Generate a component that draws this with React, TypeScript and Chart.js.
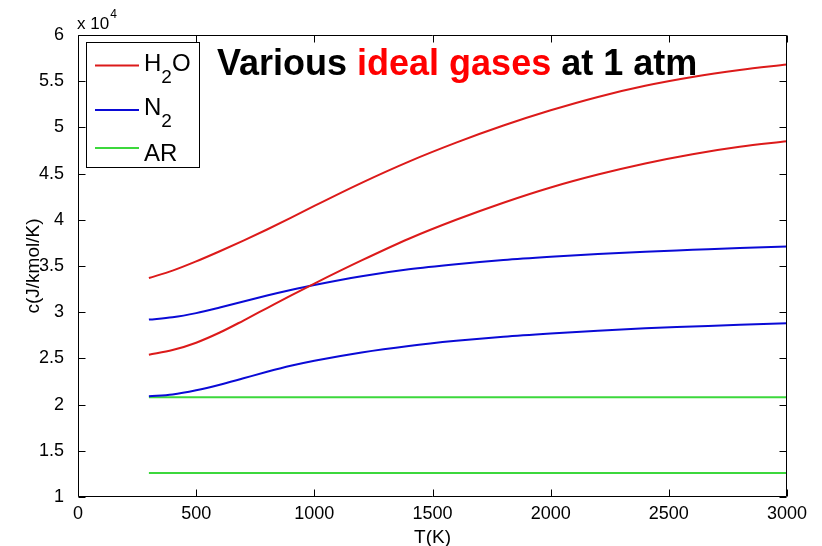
import React, { useEffect, useRef } from "react";
import { Chart, registerables } from "chart.js";

Chart.register(...registerables);

// Temperatures (K) at which the curves were read
const TEMPS = [300, 400, 500, 600, 700, 800, 900, 1000, 1200, 1400, 1600, 1800, 2000, 2200, 2400, 2600, 2800, 3000];
// Specific heat c (J/kmol/K)
const H2O_UPPER = [33700, 34500, 35500, 36600, 37750, 38950, 40200, 41500, 44000, 46300, 48350, 50200, 51850, 53300, 54500, 55450, 56200, 56800];
const H2O_LOWER = [25400, 25900, 26700, 27800, 29100, 30450, 31800, 33100, 35600, 37950, 40000, 41850, 43500, 44900, 46100, 47100, 47900, 48500];
const N2_UPPER = [29200, 29450, 29900, 30500, 31150, 31800, 32400, 32950, 33900, 34650, 35200, 35650, 36000, 36300, 36550, 36750, 36950, 37100];
const N2_LOWER = [20900, 21100, 21550, 22150, 22850, 23550, 24200, 24750, 25650, 26350, 26900, 27350, 27700, 28000, 28250, 28450, 28650, 28800];
const AR_TEMPS = [300, 3000];
const AR_UPPER = [20800, 20800];
const AR_LOWER = [12600, 12600];

const X_MIN = 0;
const X_MAX = 3000;
const X_STEP = 500;
const Y_MIN = 10000;
const Y_MAX = 60000;
const Y_STEP = 5000;
const Y_FACTOR = 10000;

const TITLE_PARTS = [
  { text: "Various ", color: "#000000" },
  { text: "ideal gases", color: "#ff0000" },
  { text: " at 1 atm", color: "#000000" },
];
const X_TITLE = "T(K)";
const Y_TITLE = "c(J/kmol/K)";

const RED = "#dc1a1a";
const BLUE = "#0a0ad6";
const GREEN = "#3cd83c";
const FONT = "'Liberation Sans', Arial, Helvetica, sans-serif";

const pts = (xs: number[], ys: number[]) => xs.map((x, i) => ({ x, y: ys[i] }));

const overlayPlugin = {
  id: "matlabOverlay",
  afterDraw(chart: any) {
    const ctx: CanvasRenderingContext2D = chart.ctx;
    const { left, right, top, bottom } = chart.chartArea;
    const xs = chart.scales.x;
    const ys = chart.scales.y;
    ctx.save();
    // axes box
    ctx.strokeStyle = "#000";
    ctx.lineWidth = 1;
    const L = Math.round(left) + 0.5;
    const R = Math.round(right) - 0.5;
    const T = Math.round(top) + 0.5;
    const B = Math.round(bottom) - 0.5;
    ctx.beginPath();
    ctx.rect(L, T, R - L, B - T);
    ctx.stroke();
    // inward ticks
    const tl = 7;
    ctx.beginPath();
    xs.ticks.forEach((t: any) => {
      const px = Math.round(xs.getPixelForValue(t.value)) + 0.5;
      ctx.moveTo(px, B);
      ctx.lineTo(px, B - tl);
      ctx.moveTo(px, T);
      ctx.lineTo(px, T + tl);
    });
    ys.ticks.forEach((t: any) => {
      const py = Math.round(ys.getPixelForValue(t.value)) + 0.5;
      ctx.moveTo(L, py);
      ctx.lineTo(L + tl, py);
      ctx.moveTo(R, py);
      ctx.lineTo(R - tl, py);
    });
    ctx.stroke();

    // exponent label
    ctx.fillStyle = "#000";
    ctx.textBaseline = "alphabetic";
    ctx.textAlign = "left";
    ctx.font = `17px ${FONT}`;
    ctx.fillText("x 10", 77, 29);
    const w10 = ctx.measureText("x 10").width;
    ctx.font = `12px ${FONT}`;
    ctx.fillText("4", 77 + w10 + 1, 18);

    // axis titles
    ctx.font = `19px ${FONT}`;
    ctx.textAlign = "center";
    ctx.fillText(X_TITLE, (left + right) / 2, 543);
    ctx.save();
    ctx.translate(39, (top + bottom) / 2);
    ctx.rotate(-Math.PI / 2);
    ctx.fillText(Y_TITLE, 0, 0);
    ctx.restore();

    // title
    ctx.textAlign = "left";
    ctx.font = `bold 36px ${FONT}`;
    let tx = 217;
    TITLE_PARTS.forEach((p) => {
      ctx.fillStyle = p.color;
      ctx.fillText(p.text, tx, 75);
      tx += ctx.measureText(p.text).width;
    });

    // legend
    ctx.fillStyle = "#fff";
    ctx.fillRect(87, 42, 112, 125);
    ctx.strokeStyle = "#000";
    ctx.lineWidth = 1;
    ctx.strokeRect(86.5, 42.5, 113, 125);
    const entries = [
      { color: RED, y: 65.5, parts: ["H", "2", "O"], base: 71 },
      { color: BLUE, y: 110, parts: ["N", "2"], base: 115 },
      { color: GREEN, y: 148, parts: ["AR"], base: 161 },
    ];
    entries.forEach((e) => {
      ctx.strokeStyle = e.color;
      ctx.lineWidth = 2;
      ctx.beginPath();
      ctx.moveTo(95, e.y);
      ctx.lineTo(139, e.y);
      ctx.stroke();
      let x = 144;
      ctx.fillStyle = "#000";
      e.parts.forEach((s, i) => {
        const sub = i === 1;
        ctx.font = sub ? `19px ${FONT}` : `24px ${FONT}`;
        ctx.fillText(s, x, sub ? e.base + 12 : e.base);
        x += ctx.measureText(s).width;
      });
    });
    ctx.restore();
  },
};

export default function App() {
  const ref = useRef<HTMLCanvasElement | null>(null);
  useEffect(() => {
    if (!ref.current) return;
    const common = { pointRadius: 0, borderWidth: 2, cubicInterpolationMode: "monotone" as const, fill: false };
    const chart = new Chart(ref.current, {
      type: "line",
      data: {
        datasets: [
          { label: "H2O upper", data: pts(TEMPS, H2O_UPPER), borderColor: RED, ...common },
          { label: "H2O lower", data: pts(TEMPS, H2O_LOWER), borderColor: RED, ...common },
          { label: "N2 upper", data: pts(TEMPS, N2_UPPER), borderColor: BLUE, ...common },
          { label: "N2 lower", data: pts(TEMPS, N2_LOWER), borderColor: BLUE, ...common },
          { label: "AR upper", data: pts(AR_TEMPS, AR_UPPER), borderColor: GREEN, ...common },
          { label: "AR lower", data: pts(AR_TEMPS, AR_LOWER), borderColor: GREEN, ...common },
        ],
      },
      options: {
        animation: false,
        responsive: false,
        devicePixelRatio: 1,
        layout: { padding: { left: 0, top: 35, right: 35, bottom: 0 } },
        plugins: { legend: { display: false }, tooltip: { enabled: false }, title: { display: false } },
        scales: {
          x: {
            type: "linear",
            min: X_MIN,
            max: X_MAX,
            grid: { display: false },
            border: { display: false },
            ticks: {
              stepSize: X_STEP,
              color: "#000",
              padding: -2,
              maxRotation: 0,
              autoSkip: false,
              font: { family: FONT, size: 18 },
              callback: (v: any) => String(v),
            },
            afterFit: (s: any) => {
              s.height = 49;
            },
          },
          y: {
            type: "linear",
            min: Y_MIN,
            max: Y_MAX,
            grid: { display: false },
            border: { display: false },
            ticks: {
              stepSize: Y_STEP,
              color: "#000",
              padding: 6,
              autoSkip: false,
              font: { family: FONT, size: 18 },
              callback: (v: any) => String(Number(v) / Y_FACTOR),
            },
            afterFit: (s: any) => {
              s.width = 78;
            },
          },
        },
      },
      plugins: [overlayPlugin],
    });
    return () => chart.destroy();
  }, []);
  return (
    <div style={{ position: "fixed", left: 0, top: 0, width: 822, height: 546, background: "#fff" }}>
      <canvas ref={ref} width={822} height={546} style={{ width: 822, height: 546, display: "block" }} />
    </div>
  );
}
